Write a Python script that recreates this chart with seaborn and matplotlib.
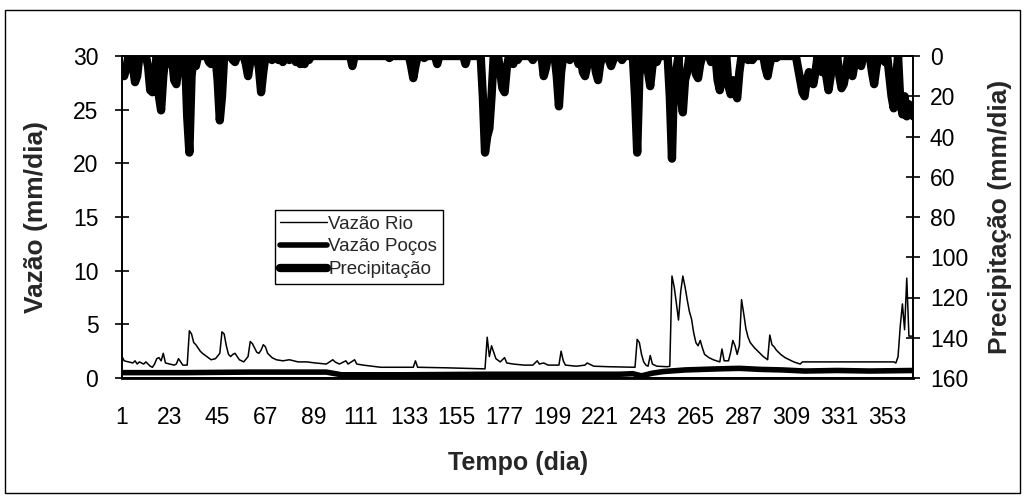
import numpy as np
import pandas as pd
import matplotlib
matplotlib.use("Agg")
import matplotlib.pyplot as plt
import seaborn as sns
from matplotlib.patches import Rectangle
from matplotlib.lines import Line2D

# ---------------- data ----------------
river_days = [1, 2, 4, 6, 7, 8, 9, 11, 12, 14, 15, 16, 17, 18, 19, 20, 21, 23, 25, 26,
              27, 28, 29, 31, 32, 33, 34, 35, 36, 37, 38, 40, 42, 44, 46, 47, 48, 49, 50, 51,
              52, 53, 54, 55, 57, 59, 60, 61, 62, 63, 64, 65, 66, 67, 68, 70, 72, 75, 78, 82,
              86, 90, 95, 98, 99, 101, 104, 105, 108, 109, 112, 116, 120, 130, 135, 136, 137, 150, 160, 168,
              169, 170, 171, 172, 173, 175, 177, 178, 181, 186, 190, 192, 193, 195, 197, 202, 203, 204, 205, 210,
              214, 215, 216, 218, 225, 237, 238, 239, 240, 241, 242, 243, 244, 245, 247, 252, 253, 254, 255, 256,
              257, 258, 259, 260, 261, 262, 263, 264, 265, 266, 267, 268, 269, 271, 273, 276, 277, 278, 280, 281,
              282, 283, 284, 285, 286, 287, 288, 289, 290, 292, 294, 296, 298, 299, 300, 301, 302, 304, 306, 308,
              310, 313, 314, 356, 357, 358, 359, 360, 361, 362, 363, 365]
river_flow = [2.0, 1.6, 1.5, 1.4, 1.6, 1.3, 1.5, 1.3, 1.5, 1.1, 1.0, 1.3, 1.8, 1.9, 1.6, 2.3, 1.4, 1.3, 1.2, 1.3,
              1.8, 1.5, 1.2, 1.2, 4.4, 4.1, 3.3, 3.1, 2.8, 2.5, 2.3, 2.0, 1.7, 1.8, 2.3, 4.3, 4.1, 3.0, 2.2, 2.0,
              2.2, 2.3, 2.0, 1.7, 1.5, 2.0, 3.4, 3.2, 2.8, 2.4, 2.3, 2.6, 3.1, 2.9, 2.3, 1.9, 1.7, 1.6, 1.7, 1.5,
              1.5, 1.4, 1.3, 1.7, 1.5, 1.3, 1.6, 1.3, 1.7, 1.3, 1.2, 1.1, 1.0, 1.0, 1.0, 1.6, 1.0, 0.95, 0.9, 0.85,
              3.8, 2.0, 3.0, 2.4, 1.8, 1.5, 1.9, 1.4, 1.3, 1.2, 1.2, 1.6, 1.3, 1.4, 1.2, 1.2, 2.5, 1.6, 1.2, 1.1,
              1.2, 1.4, 1.3, 1.1, 1.05, 1.0, 3.6, 3.3, 2.2, 1.5, 1.2, 1.1, 2.1, 1.3, 1.1, 1.05, 1.1, 9.5, 8.5, 7.0,
              5.4, 8.0, 9.5, 8.5, 7.3, 6.2, 5.5, 4.2, 3.3, 3.0, 3.5, 2.8, 2.2, 1.9, 1.7, 1.5, 2.7, 1.6, 1.6, 2.4,
              3.5, 3.0, 2.2, 3.0, 7.3, 6.0, 4.6, 3.8, 3.3, 2.8, 2.4, 2.0, 1.7, 4.0, 3.1, 2.9, 2.6, 2.2, 1.9, 1.7,
              1.5, 1.3, 1.5, 1.5, 1.4, 2.0, 4.8, 6.9, 4.5, 9.3, 3.9, 3.9]

well_days = [1, 30, 60, 95, 102, 130, 170, 200, 230, 236, 240, 245, 250, 260, 275, 285, 295, 305, 315, 330, 345, 365]
well_flow = [0.5, 0.5, 0.55, 0.55, 0.3, 0.3, 0.35, 0.35, 0.35, 0.4, 0.2, 0.45, 0.6, 0.75, 0.85, 0.9, 0.8, 0.75, 0.65, 0.7, 0.65, 0.7]

rain_days = [1, 2, 3, 6, 7, 8, 13, 14, 15, 16, 18, 19, 20, 22, 25, 26, 27, 31, 32, 33,
             35, 41, 42, 43, 45, 46, 47, 52, 53, 58, 59, 60, 64, 65, 66, 70, 73, 75, 78, 81,
             83, 85, 87, 107, 124, 134, 135, 136, 140, 146, 159, 167, 168, 169, 170, 171, 175, 176, 177, 178,
             181, 183, 190, 195, 196, 201, 202, 203, 207, 211, 213, 214, 215, 219, 220, 221, 225, 226, 227, 231,
             237, 238, 239, 243, 244, 245, 247, 253, 254, 255, 256, 258, 259, 260, 261, 263, 265, 266, 267, 272,
             275, 276, 277, 280, 281, 282, 283, 284, 285, 289, 291, 297, 298, 299, 302, 312, 313, 314, 315, 316,
             317, 318, 319, 320, 322, 323, 325, 326, 327, 329, 331, 332, 333, 334, 336, 337, 338, 341, 346, 347,
             348, 352, 354, 355, 356, 357, 359, 360, 361, 362, 363, 364, 365]
rain_mm = [9, 10, 6, 5, 13, 10, 5, 17, 18, 12, 20, 27, 10, 4, 12, 14, 6, 30, 48, 10,
           5, 3, 4, 3, 12, 32, 20, 2, 3, 4, 10, 3, 6, 18, 8, 2, 2, 3, 2, 3,
           4, 4, 2, 5, 1, 5, 11, 5, 1, 4, 4, 20, 48, 40, 36, 20, 8, 16, 18, 6,
           4, 2, 2, 10, 6, 10, 25, 8, 2, 4, 8, 10, 5, 8, 12, 4, 2, 5, 2, 2,
           20, 48, 10, 8, 15, 5, 3, 20, 51, 8, 7, 20, 28, 12, 8, 3, 9, 11, 4, 3,
           12, 17, 10, 15, 19, 12, 18, 21, 8, 2, 2, 6, 10, 4, 1, 6, 12, 18, 20, 12,
           8, 10, 14, 8, 6, 8, 10, 17, 10, 6, 10, 16, 14, 8, 6, 10, 4, 5, 8, 14,
           6, 3, 10, 20, 26, 12, 22, 29, 20, 30, 24, 28, 30]

x_ticks = list(range(1, 366, 22))
left_ticks = [0, 5, 10, 15, 20, 25, 30]
right_ticks = [0, 20, 40, 60, 80, 100, 120, 140, 160]

# daily precipitation table (days without rain = 0)
all_days = np.arange(1, 366)
rain_series = pd.Series(0.0, index=all_days)
rain_series.loc[rain_days] = rain_mm
rain_df = pd.DataFrame({"dia": all_days, "mm": rain_series.values})
river_df = pd.DataFrame({"dia": river_days, "q": river_flow})
well_df = pd.DataFrame({"dia": well_days, "q": well_flow})

# ---------------- plot ----------------
sns.set_theme(style="white")
plt.rcParams["font.family"] = ["Liberation Sans", "DejaVu Sans"]

fig = plt.figure(figsize=(10.25, 5.0), dpi=100)
ax = fig.add_axes([0.119, 0.244, 0.772, 0.644])
ax2 = ax.twinx()

sns.lineplot(data=rain_df, x="dia", y="mm", ax=ax2, color="black", linewidth=6,
             solid_capstyle="round", solid_joinstyle="round")
sns.lineplot(data=well_df, x="dia", y="q", ax=ax, color="black", linewidth=4)
sns.lineplot(data=river_df, x="dia", y="q", ax=ax, color="black", linewidth=1.1)

ax.set_xlim(1, 365)
ax.set_ylim(0, 30)
ax2.set_ylim(160, 0)
ax.set_xticks(x_ticks)
ax.set_xticklabels([str(t) for t in x_ticks])
ax.set_yticks(left_ticks)
ax2.set_yticks(right_ticks)

for a in (ax, ax2):
    for s in a.spines.values():
        s.set_color("black")
        s.set_linewidth(1.2)
ax.spines["bottom"].set_linewidth(2.0)

ax.tick_params(axis="x", direction="out", length=0, labelsize=16.5, pad=20, colors="black")
ax.tick_params(axis="y", direction="inout", length=10, width=1.2, labelsize=16.5, pad=12, colors="black")
ax2.tick_params(axis="y", direction="inout", length=10, width=1.2, labelsize=16.5, pad=7, colors="black")

ax.set_xlabel("Tempo (dia)", fontsize=18, fontweight="bold", labelpad=16)
ax.set_ylabel("Vazão (mm/dia)", fontsize=19, fontweight="bold", labelpad=18)
ax2.set_ylabel("Precipitação (mm/dia)", fontsize=19, fontweight="bold", labelpad=14)

handles = [Line2D([0], [0], color="black", lw=1.0),
           Line2D([0], [0], color="black", lw=4, solid_capstyle="round"),
           Line2D([0], [0], color="black", lw=6, solid_capstyle="round")]
leg = ax2.legend(handles, ["Vazão Rio", "Vazão Poços", "Precipitação"],
                 loc="upper left", bbox_to_anchor=(0.193, 0.522), fontsize=13.5,
                 frameon=True, fancybox=False, framealpha=1, edgecolor="black",
                 handlelength=2.5, handletextpad=0.05, borderpad=0.3, labelspacing=0.3,
                 borderaxespad=0)
leg.get_frame().set_linewidth(1.0)

fig.patches.append(Rectangle((0.005, 0.015), 0.99, 0.965, transform=fig.transFigure,
                             fill=False, edgecolor="black", linewidth=1.0))

fig.savefig("out.png", dpi=100, facecolor="white")
